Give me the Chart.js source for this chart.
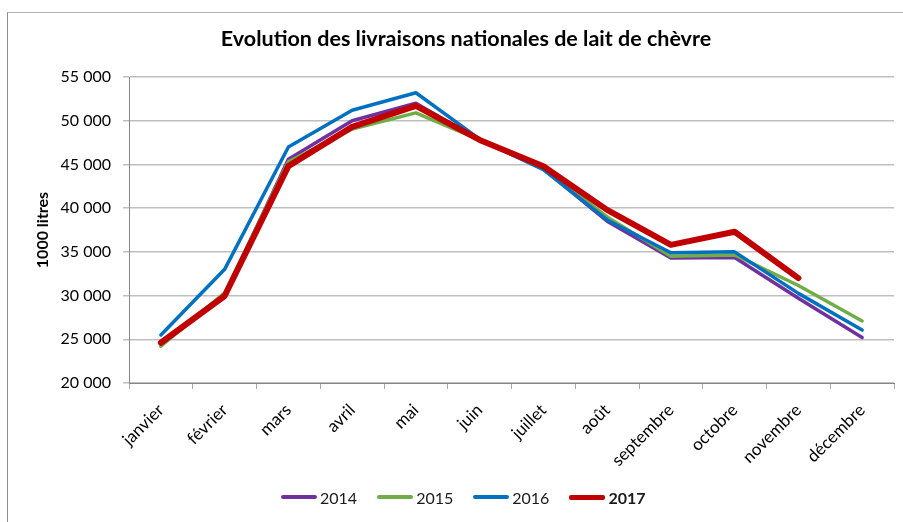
<!DOCTYPE html>
<html lang="fr">
<head>
<meta charset="utf-8">
<title>Evolution des livraisons nationales de lait de chèvre</title>
<script src="https://cdn.jsdelivr.net/npm/chart.js@4.4.1/dist/chart.umd.min.js"></script>
<style>
  html, body { margin: 0; padding: 0; background: #fff; }
  #wrap { position: relative; width: 903px; height: 522px; overflow: hidden; }
  #cadre { position: absolute; left: 7px; top: 12px; width: 1000px; height: 600px;
           border-top: 1px solid #b4b4b4; border-left: 1px solid #8c8c8c; }
  #graphique { position: absolute; left: 0; top: 0; }
  #legende { position: absolute; left: 281px; top: 487px; height: 20px; display: flex; align-items: center;
             font: 16px Lato, sans-serif; color: #1a1a1a; }
  .item { display: flex; align-items: center; margin-right: 20px; }
  .trait { display: inline-block; width: 36px; height: 4px; border-radius: 2px; margin-right: 3px; }
</style>
</head>
<body>
<div id="wrap">
  <div id="cadre"></div>
  <canvas id="graphique" width="903" height="522"></canvas>
  <div id="legende"></div>
</div>
<script>
// --- DONNÉES ---
const MOIS = ['janvier', 'février', 'mars', 'avril', 'mai', 'juin', 'juillet', 'août', 'septembre', 'octobre', 'novembre', 'décembre'];
const LIVRAISONS_2014 = [24400, 30000, 45600, 50000, 52000, 47800, 44500, 38500, 34300, 34350, 29700, 25200];
const LIVRAISONS_2015 = [24200, 30300, 45300, 49050, 50900, 47800, 44600, 39000, 34500, 34650, 31150, 27100];
const LIVRAISONS_2016 = [25500, 33000, 47000, 51200, 53200, 47900, 44400, 38650, 34900, 35000, 30250, 26050];
const LIVRAISONS_2017 = [24600, 29950, 44800, 49300, 51700, 47800, 44800, 39800, 35800, 37300, 32000, null];
const GRADUATIONS_Y = { min: 20000, max: 55000, pas: 5000 };

const formaterMilliers = (v) => String(v).replace(/\B(?=(\d{3})+(?!\d))/g, ' ');

const series = [
  { label: '2014', data: LIVRAISONS_2014, couleur: '#7030a0', epaisseur: 3.5, ordre: 4, gras: false },
  { label: '2015', data: LIVRAISONS_2015, couleur: '#70ad47', epaisseur: 3.5, ordre: 3, gras: false },
  { label: '2016', data: LIVRAISONS_2016, couleur: '#0070c0', epaisseur: 3.5, ordre: 2, gras: false },
  { label: '2017', data: LIVRAISONS_2017, couleur: '#c00000', epaisseur: 6, ordre: 1, gras: true }
];

Chart.defaults.font.family = 'Lato, sans-serif';
Chart.defaults.color = '#1a1a1a';

// le titre Excel est centré un peu à droite du centre du canevas
const decalerTitre = {
  id: 'decalerTitre',
  afterLayout(chart) {
    const t = chart.titleBlock;
    if (t) { t.left = 38; t.right = 894; }
  }
};

const grafico = new Chart(document.getElementById('graphique'), {
  type: 'line',
  data: {
    labels: MOIS,
    datasets: series.map(s => ({
      label: s.label, data: s.data, borderColor: s.couleur, backgroundColor: s.couleur,
      borderWidth: s.epaisseur, order: s.ordre, pointRadius: 0, tension: 0,
      borderCapStyle: 'round', borderJoinStyle: 'round', fill: false, spanGaps: false
    }))
  },
  options: {
    responsive: false, animation: false, devicePixelRatio: 1,
    layout: { padding: { left: 0, right: 9, top: 0, bottom: 0 } },
    plugins: {
      legend: { display: false },
      tooltip: { enabled: false },
      title: {
        display: true, text: 'Evolution des livraisons nationales de lait de chèvre',
        font: { size: 21.5, weight: 'bold' }, color: '#000',
        padding: { top: 26, bottom: 25.2 }
      }
    },
    scales: {
      x: {
        offset: true,
        grid: { offset: true, drawOnChartArea: false, drawTicks: true, tickLength: 6, color: '#a6a6a6' },
        border: { color: '#868686' },
        ticks: { minRotation: 45, maxRotation: 45, padding: 11, font: { size: 17 }, color: '#000', autoSkip: false },
        afterFit: (scale) => { scale.height = 139; }
      },
      y: {
        min: GRADUATIONS_Y.min, max: GRADUATIONS_Y.max,
        grid: { color: '#bfbfbf', tickLength: 6, lineWidth: 1.5 },
        border: { color: '#868686' },
        ticks: { stepSize: GRADUATIONS_Y.pas, padding: 12, font: { size: 16 }, color: '#000',
                 callback: (v) => formaterMilliers(v) },
        title: { display: true, text: '1000 litres', font: { size: 16, weight: 'bold' }, color: '#000',
                 padding: { top: 33.4, bottom: 0 } },
        afterFit: (scale) => { scale.width = 129; }
      }
    }
  },
  plugins: [decalerTitre]
});

// --- LÉGENDE (HTML) ---
const legende = document.getElementById('legende');
legende.innerHTML = grafico.data.datasets.map((ds, i) => `
  <span class="item">
    <span class="trait" style="background:${ds.borderColor};${series[i].gras ? 'height:5px;' : ''}"></span>
    <span style="font-weight:${series[i].gras ? 'bold' : 'normal'}">${ds.label}</span>
  </span>`).join('');
</script>
</body>
</html>
